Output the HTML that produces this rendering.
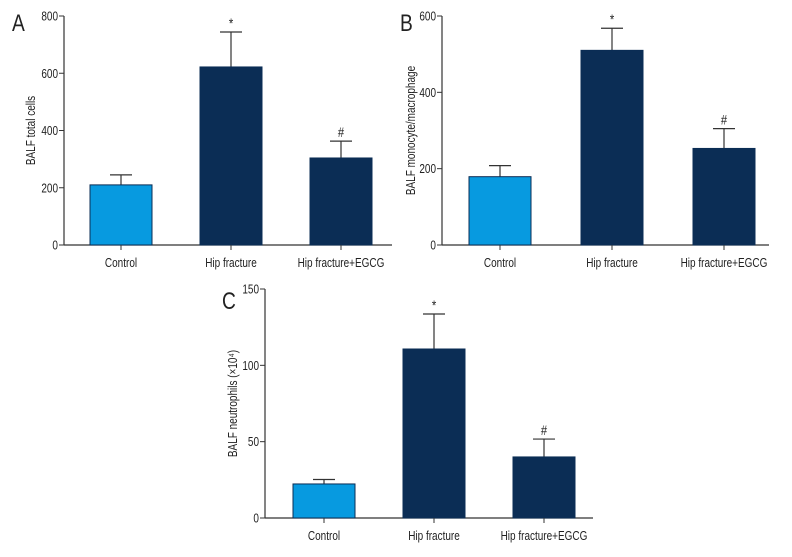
<!DOCTYPE html>
<html><head><meta charset="utf-8"><style>
body{margin:0;background:#fff}
svg text{font-family:"Liberation Sans",sans-serif;fill:#222}
</style></head><body>
<svg id="c" width="792" height="552" viewBox="0 0 792 552" xmlns="http://www.w3.org/2000/svg"></svg>
<script>
const categories = ["Control","Hip fracture","Hip fracture+EGCG"];
const valuesA = [210, 622, 304];
const errorsA = [245, 744, 363];
const ticksA = [0,200,400,600,800];
const valuesB = [179, 510, 253];
const errorsB = [208, 568, 305];
const ticksB = [0,200,400,600];
const valuesC = [22.3, 110.7, 40];
const errorsC = [25.2, 133.6, 51.7];
const ticksC = [0,50,100,150];
const marks = ["", "*", "#"];

const NS="http://www.w3.org/2000/svg";
const svg=document.getElementById('c');
function mk(tag,attrs,parent){const e=document.createElementNS(NS,tag);for(const k in attrs)e.setAttribute(k,attrs[k]);(parent||svg).appendChild(e);return e;}
function txt(parent,x,y,s,size,anchor,rot){
  const tr=`translate(${x},${y})`+(rot?' rotate(-90)':'')+' scale(0.8,1)';
  const e=mk('text',{x:0,y:0,'font-size':size,'text-anchor':anchor,transform:tr},parent);
  e.textContent=s;return e;
}

function panel(cfg, vals, errs, ticks){
  const g=mk('g',{});
  
  
  const max=ticks[ticks.length-1];
  const y=v=>cfg.y0-(v/max)*(cfg.y0-cfg.yTop);
  const xb=i=>cfg.x0+cfg.first+i*cfg.step;
  const L=txt(g,cfg.lx,cfg.ly,cfg.id,24,'start');
  
  
  const ya=mk('line',{x1:cfg.x0,y1:cfg.yTop,x2:cfg.x0,y2:cfg.y0,stroke:'#333','stroke-width':1.2},g);
  
  
  const xa=mk('line',{x1:cfg.x0,y1:cfg.y0,x2:cfg.xEnd,y2:cfg.y0,stroke:'#333','stroke-width':1.2},g);
  
  
  ticks.forEach(t=>{
    mk('line',{x1:cfg.x0-5,y1:y(t),x2:cfg.x0,y2:y(t),stroke:'#333'},g);
    const tx=txt(g,cfg.x0-6,y(t)+4.5,String(t),12.5,'end');
    
    
  });
  const yt=txt(g,cfg.tx,(cfg.y0+cfg.yTop)/2,cfg.title,12.5,'middle',true);
  
  
  categories.forEach((c,i)=>{
    const x=xb(i),w=62,cx=x+w/2;
    mk('line',{x1:cx,y1:y(errs[i]),x2:cx,y2:y(vals[i]),stroke:'#333','stroke-width':1.2},g);
    mk('line',{x1:cx-11,y1:y(errs[i]),x2:cx+11,y2:y(errs[i]),stroke:'#333','stroke-width':1.2},g);
    const b=mk('rect',{x:x,y:y(vals[i]),width:w,height:cfg.y0-y(vals[i]),fill:i==0?'#079ae0':'#0b2d55',stroke:'#0b2d55','stroke-width':1},g);
    
    
    mk('line',{x1:cx,y1:cfg.y0,x2:cx,y2:cfg.y0+5,stroke:'#333'},g);
    const xl=txt(g,cx,cfg.y0+22,c,12.5,'middle');
    
    
    if(marks[i]){const m=txt(g,cx,y(errs[i])-4,marks[i],14,'middle');
      
      }
  });
}
panel({id:'A',x0:64,y0:245,yTop:16,xEnd:392,first:26,step:110,lx:12,ly:31,tx:35,title:'BALF total cells'},valuesA,errorsA,ticksA);
panel({id:'B',x0:442,y0:245,yTop:16,xEnd:769,first:27,step:112,lx:400,ly:31,tx:415,title:'BALF monocyte/macrophage'},valuesB,errorsB,ticksB);
panel({id:'C',x0:265,y0:518,yTop:289,xEnd:593,first:28,step:110,lx:222,ly:309,tx:237,title:'BALF neutrophils (×10⁴)'},valuesC,errorsC,ticksC);
</script>
</body></html>
